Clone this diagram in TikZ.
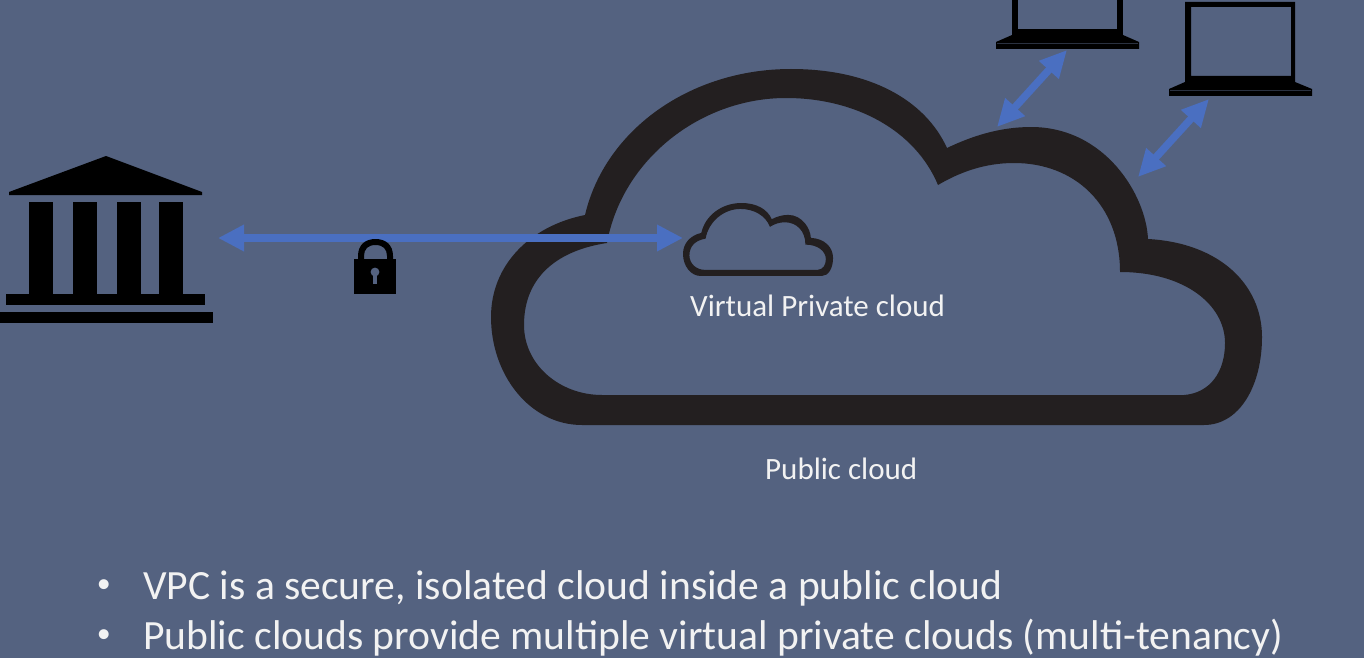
\documentclass[tikz,border=0pt]{standalone}
\usepackage{fontspec}
\setmainfont{Carlito}
\usetikzlibrary{arrows.meta}
\definecolor{bgc}{HTML}{546280}
\definecolor{cloudc}{HTML}{231F20}
\definecolor{arrowc}{HTML}{4A6FC1}
\definecolor{txtc}{HTML}{F2F2F2}
\tikzset{
  longarrow/.style={draw=arrowc,line width=8pt,{Triangle[length=26pt,width=25pt]}-{Triangle[length=26pt,width=25pt]}},
  diagarrow/.style={draw=arrowc,line width=7.5pt,{Triangle[length=27pt,width=25pt]}-{Triangle[length=27pt,width=25pt]}},
  smalltext/.style={text=txtc,anchor=base west,inner sep=0pt,font=\fontsize{31}{34}\selectfont},
  bullettext/.style={text=txtc,anchor=base west,inner sep=0pt,font=\fontsize{41.6}{46}\selectfont},
  bulletmark/.style={text=txtc,anchor=base west,inner sep=0pt,font=\fontsize{28}{30}\selectfont},
}
\newcommand{\cloudshape}{%
  (582,425) -- (1204,425) .. controls (1240,425) and (1262,385) .. (1262,337)
  .. controls (1262,285) and (1220,243) .. (1148,239)
  .. controls (1146,195) and (1105,127) .. (1031,127)
  .. controls (1000,127) and (972,136) .. (947,148)
  .. controls (925,100) and (870,69) .. (791,69)
  .. controls (690,69) and (605,130) .. (585,215)
  .. controls (530,226) and (491,265) .. (491,317)
  .. controls (491,375) and (530,425) .. (582,425) -- cycle
  (602,395) -- (1184,395) .. controls (1210,393) and (1225,372) .. (1225,343)
  .. controls (1225,305) and (1185,272) .. (1120,272)
  .. controls (1120,205) and (1075,163) .. (1014,163)
  .. controls (985,163) and (960,172) .. (938,185)
  .. controls (915,130) and (855,98) .. (786,98)
  .. controls (700,98) and (622,160) .. (607,243)
  .. controls (560,250) and (524,275) .. (524,325)
  .. controls (524,365) and (560,395) .. (602,395) -- cycle
}
\newcommand{\laptopshape}[2]{%
  \fill[black,even odd rule,shift={(#1,#2)}]
    (1185,2) rectangle (1295,82) (1191,7) rectangle (1291,76);
  \fill[black,shift={(#1,#2)}]
    (1185,82) -- (1295,82) -- (1312,89) -- (1312,96) -- (1169,96) -- (1169,89) -- cycle;
  \draw[bgc!50!black,line width=.6pt,shift={(#1,#2)}] (1170,90) -- (1311,90);
}
\begin{document}
\begin{tikzpicture}[x=1pt,y=-1pt]
\useasboundingbox (0,0) rectangle (1364,658);
\fill[bgc] (0,0) rectangle (1364,658);
% public cloud
\fill[cloudc,even odd rule] \cloudshape;
% virtual private cloud
\begin{scope}[shift={(683,203)},xscale=.1946,yscale=.205,shift={(-491,-69)}]
\fill[cloudc,even odd rule] \cloudshape;
\end{scope}
% bank
\fill[black] (106,156) -- (202,192) -- (202,195) -- (9,195) -- (9,192) -- cycle;
\foreach \xa/\xb in {29/53,73/97,117/141,159/183}
  \fill[black] (\xa,202) rectangle (\xb,294);
\fill[black] (6,294) rectangle (205,305);
\fill[black] (0,312) rectangle (213,323);
% laptops
\fill[black] (1012,0) rectangle (1018,35);
\fill[black] (1117,0) rectangle (1123,35);
\fill[black] (1012,29) rectangle (1123,35);
\fill[black] (1012,35) -- (1123,35) -- (1139,42) -- (1139,49) -- (996,49) -- (996,42) -- cycle;
\draw[bgc!50!black,line width=.6pt] (997,43.5) -- (1138,43.5);
\laptopshape{0}{0}
% anchors
\coordinate (bankEnd) at (218,238);
\coordinate (vpcEnd) at (683,238);
\coordinate (laptopA) at (1067,50);
\coordinate (cloudA) at (997,127);
\coordinate (laptopB) at (1209,99);
\coordinate (cloudB) at (1138,177);
\draw[longarrow] (bankEnd) -- (vpcEnd);
\draw[diagarrow] (laptopA) -- (cloudA);
\draw[diagarrow] (laptopB) -- (cloudB);
% lock
\fill[black] (354,259) rectangle (396,294);
\fill[black,even odd rule]
  (358,260) -- (358,256) .. controls (358,245) and (365,239) .. (375.5,239) .. controls (386,239) and (393,245) .. (393,256) -- (393,260) -- cycle
  (364,260) -- (364,256) .. controls (364,249) and (368,245) .. (375.5,245) .. controls (383,245) and (387,249) .. (387,256) -- (387,260) -- cycle;
\fill[bgc] (375,272) circle[radius=4.4];
\fill[bgc] (372.8,273) rectangle (377.2,284);
% text
\node[smalltext] (vpcLabel) at (690,316) {Virtual Private cloud};
\node[smalltext] (publicLabel) at (765,479) {Public cloud};
\node[bulletmark] (bulletA) at (96.6,592) {•};
\node[bullettext] (lineA) at (143,599) {VPC is a secure, isolated cloud inside a public cloud};
\node[bulletmark] (bulletB) at (96.6,642) {•};
\node[bullettext] (lineB) at (143,649.5) {Public clouds provide multiple virtual private clouds (multi-tenancy)};
\end{tikzpicture}
\end{document}
